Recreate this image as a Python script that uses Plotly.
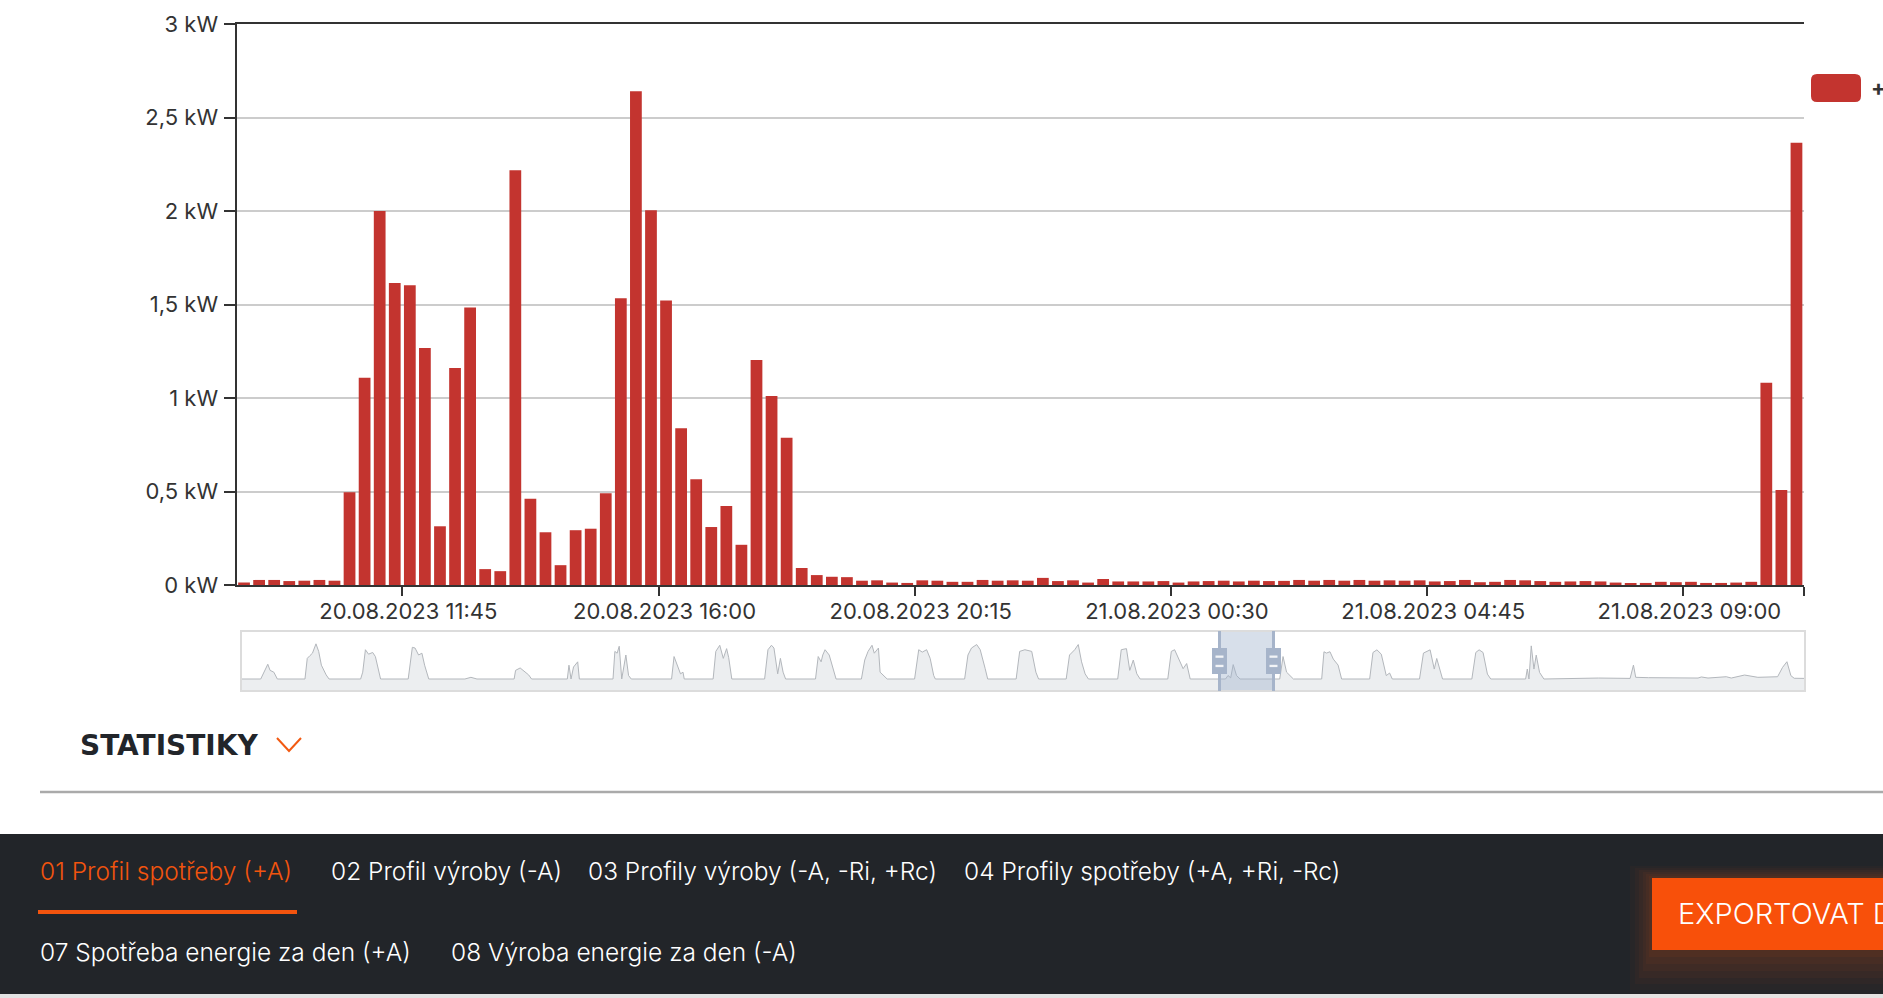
import pandas as pd
import plotly.graph_objects as go

W, H = 1883, 998

# ---------------- data ----------------
series_name = "+A"
start_time = "2023-08-20 09:00"
interval = "15min"
power_kw = [0.014, 0.027, 0.027, 0.021, 0.023, 0.027, 0.023, 0.496, 1.108, 2.0,
            1.615, 1.603, 1.268, 0.314, 1.16, 1.484, 0.085, 0.074, 2.218, 0.461,
            0.282, 0.106, 0.293, 0.301, 0.491, 1.534, 2.641, 2.004, 1.521, 0.838,
            0.565, 0.31, 0.422, 0.215, 1.203, 1.011, 0.787, 0.091, 0.053, 0.044,
            0.042, 0.023, 0.025, 0.013, 0.011, 0.025, 0.023, 0.017, 0.017, 0.027,
            0.023, 0.025, 0.023, 0.038, 0.021, 0.025, 0.013, 0.032, 0.019, 0.019,
            0.019, 0.021, 0.013, 0.019, 0.021, 0.023, 0.019, 0.023, 0.021, 0.022,
            0.027, 0.023, 0.027, 0.023, 0.027, 0.023, 0.025, 0.023, 0.025, 0.019,
            0.021, 0.027, 0.015, 0.017, 0.027, 0.025, 0.021, 0.017, 0.019, 0.021,
            0.019, 0.013, 0.008, 0.011, 0.017, 0.015, 0.017, 0.011, 0.011, 0.013,
            0.017, 1.082, 0.508, 2.365]

x_tick_times = ["2023-08-20 11:45", "2023-08-20 16:00", "2023-08-20 20:15",
                "2023-08-21 00:30", "2023-08-21 04:45", "2023-08-21 09:00",
                "2023-08-21 11:00"]
x_tick_labels = ["20.08.2023 11:45", "20.08.2023 16:00", "20.08.2023 20:15",
                 "21.08.2023 00:30", "21.08.2023 04:45", "21.08.2023 09:00", ""]

y_tick_vals = [0, 0.5, 1, 1.5, 2, 2.5, 3]
y_tick_labels = ["0 kW", "0,5 kW", "1 kW", "1,5 kW", "2 kW", "2,5 kW", "3 kW"]

# navigator (overview) series: hours from start of overview, value in kW
nav_hours = [0, 9.5, 12.9, 14.0, 15.8, 17.5,
             30.8, 31.9, 33.2, 34.4, 36.1, 37.4, 38.7, 41.0, 42.4,
             57.6, 58.6, 59.9, 61.4, 63.4, 64.7, 65.9, 67.2,
             80.5, 82.5, 83.8, 85.5, 87.1, 88.4, 90.4,
             107.8, 110.7, 113.6,
             131.5, 132.2, 134.4, 136.0, 138.5, 139.9,
             157.1, 157.9, 158.9, 160.1, 162.1, 162.9,
             179.1, 180.0, 181.1, 182.1, 183.3, 185.3, 186.6, 187.9,
             207.3, 208.5, 210.3, 211.6, 212.8, 213.4,
             227.3, 228.6, 230.5, 232.2, 233.8, 234.8, 236.3,
             252.1, 253.7, 255.4, 256.6, 257.4, 258.4, 259.7, 261.0, 262.2,
             276.6, 277.9, 279.3, 280.1, 281.2, 283.2, 284.9, 286.5,
             298.7, 300.3, 301.9, 303.8, 304.9, 306.9, 307.7, 309.4, 311.1,
             324.3, 326.3, 328.0, 330.1, 331.8, 333.5, 334.3,
             348.4, 350.0, 351.7, 354.2, 355.9, 358.3, 359.5,
             373.2, 374.9, 377.4, 380.7, 382.7, 384.0,
             397.3, 398.9, 401.4, 403.1, 404.7, 406.4, 408.0,
             422.1, 423.8, 426.3, 427.9, 429.6, 431.3, 432.9,
             446.2, 447.9, 449.5, 452.0, 453.6, 455.3, 457.0,
             474.0, 475.2, 476.5, 477.7, 479.3, 481.0,
             500.1, 501.7, 503.4, 505.0, 506.7,
             520.3, 521.4, 522.6, 524.3, 525.9, 528.2, 529.9,
             543.4, 545.0, 546.9, 549.0, 551.4, 553.0, 554.3,
             567.4, 569.3, 572.5, 574.5, 575.7, 578.5,
             592.6, 594.5, 596.1, 598.0, 600.1, 601.7,
             618.5, 619.3, 620.1, 621.2, 622.5, 623.6, 625.2, 627.3,
             653.6, 663.2, 668.8, 670.4, 671.5, 677.6, 687.2, 701.5, 703.1,
             706.3, 715.1, 717.5, 723.9, 730.3, 739.8, 742.2, 744.3, 746.2,
             747.8, 753.0]
nav_kw = [0, 0, 1.23, 0.72, 0.57, 0,
          0, 1.72, 1.95, 2.15, 2.93, 2.3, 1.15, 0.34, 0,
          0, 0.57, 2.44, 2.07, 2.21, 1.87, 0.86, 0,
          0, 2.64, 2.58, 2.0, 2.15, 1.15, 0,
          0, 0.14, 0,
          0, 0.72, 0.92, 0.72, 0.34, 0,
          0, 1.15, 0, 1.0, 1.43, 0,
          0, 2.3, 2.15, 2.73, 0, 2.0, 0.29, 0,
          0, 1.87, 1.0, 0.43, 0.57, 0,
          0, 2.3, 2.81, 1.72, 2.53, 1.78, 0,
          0, 2.44, 2.81, 2.58, 1.43, 0.43, 1.72, 0.57, 0,
          0, 1.87, 1.43, 2.0, 2.44, 2.0, 0.86, 0,
          0, 1.58, 2.3, 2.81, 2.15, 2.58, 0.57, 0.29, 0,
          0, 2.44, 2.24, 2.44, 1.72, 0.29, 0,
          0, 2.0, 2.58, 2.87, 2.44, 0.86, 0,
          0, 2.3, 2.44, 2.3, 0.57, 0,
          0, 2.0, 2.44, 2.87, 1.43, 0.43, 0,
          0, 2.44, 2.53, 0.72, 1.58, 0.43, 0,
          0, 2.3, 2.44, 1.43, 0.86, 1.29, 0,
          0, 0.29, 0.1, 1.2, 0.29, 0,
          0, 1.87, 0.57, 0.29, 0,
          0, 2.27, 2.16, 2.27, 1.66, 1.16, 0,
          0, 2.21, 2.43, 2.07, 0.28, 0.5, 0,
          0, 2.16, 2.43, 0.83, 1.71, 0,
          0, 2.21, 2.43, 2.21, 0.41, 0,
          0, 0.83, 0, 2.76, 0.83, 1.99, 0.55, 0,
          0.08, 0.08, 0.05, 1.16, 0.14, 0.11, 0.11, 0.08, 0.17,
          0.08, 0.19, 0.08, 0.33, 0.14, 0.19, 0.97, 1.44, 0.28,
          0.06, 0.05]
nav_range_hours = [0, 753]
nav_selection_hours = [471.1, 497.1]

section_title = "STATISTIKY"
tabs_row1 = ["01 Profil spotřeby (+A)", "02 Profil výroby (-A)",
             "03 Profily výroby (-A, -Ri, +Rc)", "04 Profily spotřeby (+A, +Ri, -Rc)"]
tabs_row2 = ["07 Spotřeba energie za den (+A)", "08 Výroba energie za den (-A)"]
export_label = "EXPORTOVAT DATA"

# ---------------- helpers (pixel -> paper) ----------------
def PX(x):
    return x / W


def PY(y):
    return 1 - y / H


RED = "#c3342f"
ORANGE = "#f2540e"
DARK = "#222529"
TEXT = "#333333"
FONT = "Inter, Liberation Sans, Arial, sans-serif"

times = pd.date_range(start_time, periods=len(power_kw), freq=interval)
step = pd.Timedelta(interval)
centers = times + step / 2

fig = go.Figure()
fig.add_trace(go.Bar(
    x=centers, y=power_kw, name=series_name,
    marker=dict(color=RED, line=dict(width=0)),
    hoverinfo="skip", showlegend=False,
    xaxis="x", yaxis="y",
))
fig.add_trace(go.Scatter(
    x=nav_hours, y=nav_kw, mode="lines",
    line=dict(color="#b3b7bc", width=1),
    fill="tozeroy", fillcolor="#eceef0",
    hoverinfo="skip", showlegend=False,
    xaxis="x2", yaxis="y2",
))

shapes = []
annotations = []

# navigator decorations
shapes.append(dict(type="rect", xref="x2", yref="y2",
                   x0=nav_range_hours[0], x1=nav_range_hours[1], y0=-1, y1=0,
                   fillcolor="#eceef0", line=dict(width=0), layer="below"))
shapes.append(dict(type="rect", xref="x2", yref="y2 domain",
                   x0=nav_selection_hours[0], x1=nav_selection_hours[1], y0=0, y1=1,
                   fillcolor="rgba(160,178,206,0.42)", line=dict(width=0)))
shapes.append(dict(type="rect", xref="x2 domain", yref="y2 domain",
                   x0=0, x1=1, y0=0, y1=1,
                   line=dict(color="#dcdcdc", width=2)))
for hx in nav_selection_hours:
    shapes.append(dict(type="line", xref="x2", yref="y2 domain",
                       x0=hx, x1=hx, y0=0, y1=1,
                       line=dict(color="#a6b4ca", width=3)))
    shapes.append(dict(type="rect", xref="x2", yref="paper", xsizemode="pixel",
                       xanchor=hx, x0=-7.5, x1=7.5, y0=PY(674), y1=PY(648),
                       fillcolor="#a6b4ca", line=dict(width=0)))
    for yy in (655.5, 664.8):
        shapes.append(dict(type="rect", xref="x2", yref="paper", xsizemode="pixel",
                           xanchor=hx, x0=-4, x1=4, y0=PY(yy + 2.3), y1=PY(yy),
                           fillcolor="rgba(255,255,255,0.85)", line=dict(width=0)))

# legend swatch (rounded rectangle) + label
def rounded_rect(x0, y0, x1, y1, r):
    return (f"M {PX(x0 + r)},{PY(y0)} L {PX(x1 - r)},{PY(y0)} "
            f"Q {PX(x1)},{PY(y0)} {PX(x1)},{PY(y0 + r)} "
            f"L {PX(x1)},{PY(y1 - r)} Q {PX(x1)},{PY(y1)} {PX(x1 - r)},{PY(y1)} "
            f"L {PX(x0 + r)},{PY(y1)} Q {PX(x0)},{PY(y1)} {PX(x0)},{PY(y1 - r)} "
            f"L {PX(x0)},{PY(y0 + r)} Q {PX(x0)},{PY(y0)} {PX(x0 + r)},{PY(y0)} Z")

shapes.append(dict(type="path", xref="paper", yref="paper",
                   path=rounded_rect(1811, 74, 1861, 102, 6),
                   fillcolor=RED, line=dict(width=0)))
annotations.append(dict(text=series_name, xref="paper", yref="paper",
                        x=PX(1869), y=PY(89), xanchor="left", yanchor="middle",
                        showarrow=False,
                        font=dict(family=FONT, size=22, color=TEXT, weight="bold")))

# section heading
annotations.append(dict(text=section_title, xref="paper", yref="paper",
                        x=PX(78), y=PY(745), xanchor="left", yanchor="middle",
                        showarrow=False,
                        font=dict(family="DejaVu Sans, sans-serif", size=28,
                                  color="#22252a", weight="bold")))
shapes.append(dict(type="path", xref="paper", yref="paper",
                   path=f"M {PX(277)},{PY(738)} L {PX(289)},{PY(751)} L {PX(301)},{PY(738)}",
                   line=dict(color="#f25a12", width=2)))
shapes.append(dict(type="line", xref="paper", yref="paper",
                   x0=PX(40), x1=1, y0=PY(792), y1=PY(792),
                   line=dict(color="#aaaaaa", width=2.5)))

# footer
shapes.append(dict(type="rect", xref="paper", yref="paper",
                   x0=0, x1=1, y0=PY(994), y1=PY(834),
                   fillcolor=DARK, line=dict(width=0), layer="below"))
shapes.append(dict(type="rect", xref="paper", yref="paper",
                   x0=0, x1=1, y0=0, y1=PY(994),
                   fillcolor="#e2e2e2", line=dict(width=0), layer="below"))
row1_x = [38, 329, 586, 962]
for i, (label, xx) in enumerate(zip(tabs_row1, row1_x)):
    annotations.append(dict(text=label, xref="paper", yref="paper",
                            x=PX(xx), y=PY(871), xanchor="left", yanchor="middle",
                            showarrow=False,
                            font=dict(family=FONT, size=24.5, weight=300,
                                      color=ORANGE if i == 0 else "#ffffff")))
row2_x = [38, 449]
for label, xx in zip(tabs_row2, row2_x):
    annotations.append(dict(text=label, xref="paper", yref="paper",
                            x=PX(xx), y=PY(952), xanchor="left", yanchor="middle",
                            showarrow=False,
                            font=dict(family=FONT, size=24.5, weight=300, color="#ffffff")))
shapes.append(dict(type="rect", xref="paper", yref="paper",
                   x0=PX(38), x1=PX(297), y0=PY(914), y1=PY(910),
                   fillcolor=ORANGE, line=dict(width=0)))

# export button with soft glow
glow_layers = [(1630, 866, 990, 0.03), (1635, 868, 984, 0.035), (1639, 870, 978, 0.04),
               (1643, 872, 971, 0.045), (1646, 874, 964, 0.05), (1649, 876, 957, 0.06)]
for (gx0, gy0, gy1, op) in glow_layers:
    shapes.append(dict(type="rect", xref="paper", yref="paper",
                       x0=PX(gx0), x1=1, y0=PY(gy1), y1=PY(gy0),
                       fillcolor=f"rgba(245,90,20,{op})", line=dict(width=0)))
shapes.append(dict(type="rect", xref="paper", yref="paper",
                   x0=PX(1652), x1=1, y0=PY(950), y1=PY(878),
                   fillcolor="#f8500a", line=dict(width=0)))
annotations.append(dict(text=export_label, xref="paper", yref="paper",
                        x=PX(1676), y=PY(913), xanchor="left", yanchor="middle",
                        showarrow=False,
                        font=dict(family=FONT, size=29, weight=300, color="#ffffff")))

axis_font = dict(family=FONT, size=22, color=TEXT)

fig.update_layout(
    width=W, height=H, autosize=False,
    margin=dict(l=0, r=0, t=0, b=0, pad=0, autoexpand=False),
    paper_bgcolor="#ffffff", plot_bgcolor="#ffffff",
    showlegend=False, bargap=0.22,
    xaxis=dict(
        type="date", domain=[PX(236.5), PX(1804)],
        range=[times[0], times[-1] + step],
        tickvals=x_tick_times, ticktext=x_tick_labels,
        ticks="outside", ticklen=9, tickwidth=2, tickcolor=TEXT,
        showline=True, linecolor=TEXT, linewidth=2, mirror=True,
        showgrid=False, zeroline=False, tickfont=axis_font,
        ticklabelstandoff=-3, ticklabelshift=6, anchor="y", automargin=False,
    ),
    yaxis=dict(
        domain=[PY(585), PY(24)], range=[0, 3],
        tickvals=y_tick_vals, ticktext=y_tick_labels,
        ticks="outside", ticklen=11, tickwidth=2, tickcolor=TEXT,
        showline=True, linecolor=TEXT, linewidth=2,
        showgrid=True, gridcolor="#cccccc", gridwidth=1.5,
        zeroline=False, tickfont=axis_font, ticklabelstandoff=1, anchor="x",
        automargin=False,
    ),
    xaxis2=dict(domain=[PX(241), PX(1805)], range=nav_range_hours,
                visible=False, anchor="y2"),
    yaxis2=dict(domain=[PY(691), PY(631)], range=[-1, 4],
                visible=False, anchor="x2"),
    shapes=shapes,
    annotations=annotations,
)

fig.write_html(
    "out.html", config={"displayModeBar": False},
    post_script=("var d=document.getElementById('{plot_id}');"
                 "d.style.position='fixed';d.style.left='0px';d.style.top='0px';"
                 "document.body.style.margin='0';"
                 "document.documentElement.style.overflow='hidden';"),
)
